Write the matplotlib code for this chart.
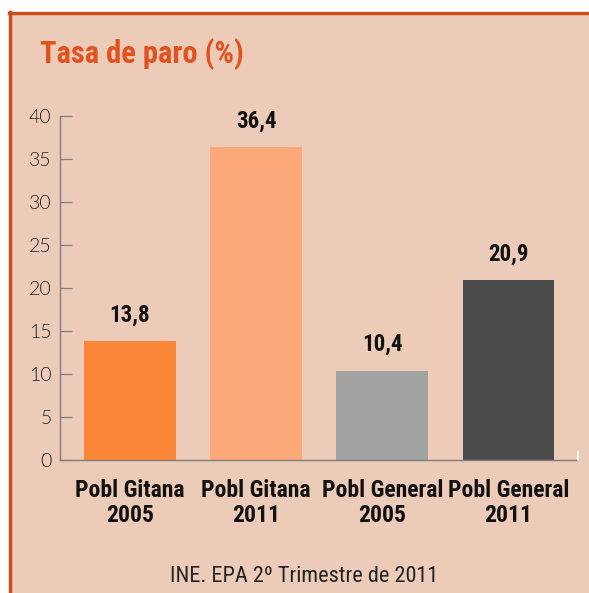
import matplotlib
matplotlib.use("Agg")
import matplotlib.pyplot as plt
from matplotlib.patches import Rectangle
from matplotlib.lines import Line2D

categories = ["Pobl Gitana\n2005", "Pobl Gitana\n2011", "Pobl General\n2005", "Pobl General\n2011"]
values = [13.8, 36.4, 10.4, 20.9]
value_labels = ["13,8", "36,4", "10,4", "20,9"]
yticks = [0, 5, 10, 15, 20, 25, 30, 35, 40]
title = "Tasa de paro (%)"
source = "INE. EPA 2º Trimestre de 2011"

bar_colors = ["#fb8536", "#fda878", "#a2a2a2", "#4b4b4b"]
bg = "#edcbb9"
accent = "#c9501a"
narrow = ["Roboto Condensed", "Asap Condensed", "DejaVu Sans"]

W, H = 589, 593
fig = plt.figure(figsize=(W / 100, H / 100), dpi=100)
fig.patch.set_facecolor("white")

fig.patches.append(Rectangle((9 / W, 0), 1, 1 - 12 / H, transform=fig.transFigure,
                             facecolor=bg, edgecolor="none", zorder=-2))
fig.lines.append(Line2D([9.5 / W, 9.5 / W], [0, 1 - 12 / H], transform=fig.transFigure,
                        color=accent, lw=2.5, zorder=-1))
fig.lines.append(Line2D([9 / W, 1], [1 - 12.5 / H, 1 - 12.5 / H], transform=fig.transFigure,
                        color=accent, lw=2.5, zorder=-1))

ax = fig.add_axes([60 / W, 133 / H, 518 / W, 344 / H])
ax.set_facecolor("none")
x = list(range(len(values)))
ax.bar(x, values, width=0.727, color=bar_colors, edgecolor="none", zorder=2)
ax.set_xlim(-0.553, 3.55)
ax.set_ylim(0, 40)

for xi, v, lab in zip(x, values, value_labels):
    ax.annotate(lab, (xi, v), xytext=(0, 14), textcoords="offset points",
                ha="center", va="baseline", fontsize=16.5, fontweight="bold",
                family=narrow, color="#111111")

for s in ["top", "right"]:
    ax.spines[s].set_visible(False)
for s in ["left", "bottom"]:
    ax.spines[s].set_color("#7f7f7f")
    ax.spines[s].set_linewidth(1.0)

ax.set_yticks(yticks)
ax.set_yticklabels([str(t) for t in yticks], family=["Lato", "DejaVu Sans"],
                   fontweight=300, fontsize=14, color="#222222")
ax.tick_params(axis="y", direction="in", length=8.5, width=0.9, color="#7f7f7f", pad=6)
ax.set_xticks(x)
ax.set_xticklabels(categories, family=narrow, fontweight="bold", fontsize=17,
                   color="#111111", linespacing=1.1)
ax.tick_params(axis="x", length=0, pad=14)

ax.plot([3.55, 3.55], [0, 0.9], color="white", lw=1.2, clip_on=False, zorder=3)

fig.text(40 / W, 1 - 63 / H, title, ha="left", va="baseline", fontsize=22,
         fontweight="bold", family=narrow, color="#e0531f")
fig.text(304 / W, 1 - 582 / H, source, ha="center", va="baseline", fontsize=16,
         family=narrow, color="#222222")

fig.savefig("out.png", dpi=100, facecolor=fig.get_facecolor())
